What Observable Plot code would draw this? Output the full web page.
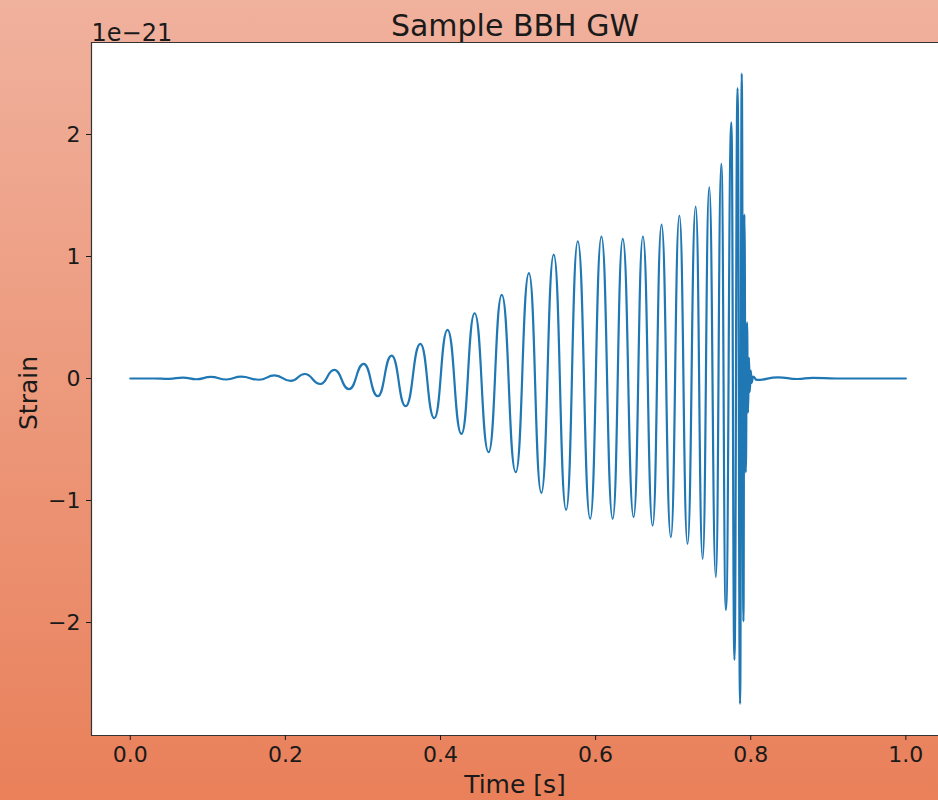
<!DOCTYPE html>
<html><head><meta charset="utf-8">
<script src="https://cdn.jsdelivr.net/npm/d3@7"></script>
<script src="https://cdn.jsdelivr.net/npm/@observablehq/plot@0.6"></script>
<style>
html,body{margin:0;padding:0;}
body{width:938px;height:800px;overflow:hidden;background:linear-gradient(to bottom,#f0b19d,#e9805a);}
svg{display:block;}
</style></head>
<body><div id="chart"></div>
<script>
// Extrema of the waveform (time in s, strain in units of 1e-21)
const time = [
  0.000, 0.030, 0.050, 0.068, 0.085, 0.104, 0.124, 0.143, 0.166, 0.186,
  0.207, 0.225, 0.245, 0.263, 0.282, 0.301, 0.319, 0.337, 0.355, 0.374,
  0.392, 0.409, 0.427, 0.444, 0.462, 0.479, 0.497, 0.514, 0.530, 0.546,
  0.562, 0.577, 0.593, 0.6075, 0.622, 0.635, 0.649, 0.661, 0.6735, 0.685,
  0.697, 0.708, 0.7185, 0.729, 0.738, 0.7465, 0.755, 0.762, 0.768, 0.775,
  0.779, 0.783, 0.7863, 0.7884, 0.7906, 0.7918, 0.7936, 0.7952, 0.7965, 0.7977,
  0.7988, 0.8000, 0.8012, 0.8030, 0.808, 0.835, 0.860, 0.880, 0.910, 1.000
];
const strain = [
  0.000, 0.000, -0.003, 0.008, -0.006, 0.013, -0.008, 0.015, -0.010, 0.025,
  -0.020, 0.037, -0.045, 0.071, -0.087, 0.120, -0.145, 0.188, -0.227, 0.284,
  -0.325, 0.399, -0.454, 0.535, -0.604, 0.686, -0.768, 0.863, -0.937, 1.016,
  -1.077, 1.125, -1.150, 1.164, -1.150, 1.145, -1.135, 1.164, -1.205, 1.262,
  -1.300, 1.336, -1.355, 1.410, -1.478, 1.568, -1.628, 1.760, -1.896, 2.100,
  -2.306, 2.380, -2.667, 2.500, -1.990, 1.344, -0.770, 0.460, -0.280, 0.170,
  -0.110, 0.065, -0.035, 0.015, -0.012, 0.010, -0.004, 0.006, 0.000, 0.000
];
const xTicks = [0.0, 0.2, 0.4, 0.6, 0.8, 1.0];
const yTicks = [-2, -1, 0, 1, 2];
const titleText = "Sample BBH GW";
const xLabel = "Time [s]";
const yLabel = "Strain";
const offsetText = "1e\u221221";

const data = time.map((t, i) => ({t, h: strain[i]}));
const xDomain = [-0.05, 1.0421];
const yDomain = [-2.926, 2.754];

const chart = Plot.plot({
  width: 938, height: 800,
  marginLeft: 91, marginRight: 0, marginTop: 42, marginBottom: 65,
  style: {background: "transparent", fontFamily: "DejaVu Sans", color: "#1a1a1a", overflow: "visible"},
  x: {domain: xDomain},
  y: {domain: yDomain},
  marks: [
    Plot.frame({fill: "white", stroke: "none"}),
    Plot.line(data, {x: "t", y: "h", stroke: "#1f77b4", strokeWidth: 2.2, curve: "bump-x"}),
    Plot.ruleX([xDomain[0]], {stroke: "#333", strokeWidth: 1.2}),
    Plot.ruleY(yDomain, {stroke: "#333", strokeWidth: 1.2}),
    Plot.axisX(xTicks, {tickFormat: d3.format(".1f"), tickSize: 5, tickPadding: 6, fontSize: 22, label: null}),
    Plot.axisY(yTicks, {tickFormat: d3.format("d"), tickSize: 5, tickPadding: 6, fontSize: 22, label: null}),
    Plot.text([titleText], {text: d => d, frameAnchor: "top", lineAnchor: "middle", dy: -16, fontSize: 30, fill: "#1a1a1a"}),
    Plot.text([offsetText], {text: d => d, frameAnchor: "top-left", textAnchor: "start", lineAnchor: "bottom", dy: -2, fontSize: 24, fill: "#1a1a1a"}),
    Plot.text([xLabel], {text: d => d, frameAnchor: "bottom", lineAnchor: "middle", dy: 49, fontSize: 25, fill: "#1a1a1a"}),
    Plot.text([yLabel], {text: d => d, frameAnchor: "left", textAnchor: "middle", lineAnchor: "middle", dx: -63, dy: 4, rotate: -90, fontSize: 25, fill: "#1a1a1a"})
  ]
});
document.getElementById("chart").appendChild(chart);
</script>
</body></html>
